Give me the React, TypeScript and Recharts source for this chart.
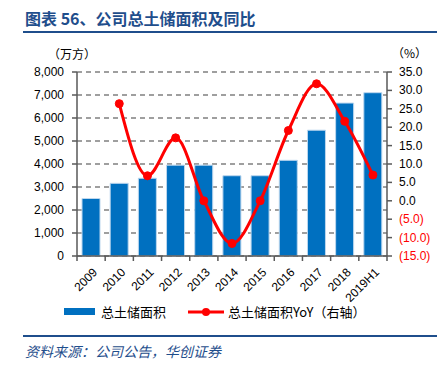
import React from "react";
import {
  ComposedChart,
  Bar,
  Line,
  XAxis,
  YAxis,
  CartesianGrid,
  Legend,
} from "recharts";

const years = ["2009", "2010", "2011", "2012", "2013", "2014", "2015", "2016", "2017", "2018", "2019H1"];
const landArea = [2500, 3160, 3380, 3950, 3950, 3490, 3490, 4160, 5470, 6650, 7100];
const landYoY = [null, 26.4, 6.8, 17.1, 0, -11.6, 0, 19.1, 31.8, 21.6, 7.0];
const leftTicks = [0, 1000, 2000, 3000, 4000, 5000, 6000, 7000, 8000];
const rightTicks = [-15, -10, -5, 0, 5, 10, 15, 20, 25, 30, 35];

const data = years.map((name, i) => ({ name, area: landArea[i], yoy: landYoY[i] }));

const BLUE = "#0070C0";
const RED = "#FF0000";
const NAVY = "#1F4E8C";
const AXIS = "#595959";
const tickFont = { fontFamily: "'Liberation Sans', Arial, sans-serif", fontSize: 12, fill: "#000" };
const cjk = "'Noto Sans CJK SC', sans-serif";

// plot area is 310px wide, 11 categories
const band = 310 / years.length;

const XTick = (props: any) => {
  const { x, y, payload, index } = props;
  const axisY = y - 8;
  return (
    <g>
      <line x1={x - band / 2} y1={axisY} x2={x - band / 2} y2={axisY + 5} stroke={AXIS} strokeWidth={1.5} />
      {index === years.length - 1 && (
        <line x1={x + band / 2} y1={axisY} x2={x + band / 2} y2={axisY + 5} stroke={AXIS} strokeWidth={1.5} />
      )}
      <text
        transform={`translate(${x + 7},${y + 9}) rotate(-45)`}
        textAnchor="end"
        style={tickFont}
      >
        {payload.value}
      </text>
    </g>
  );
};

const RightTick = (props: any) => {
  const { x, y, payload } = props;
  const v = payload.value;
  const label = v < 0 ? `(${Math.abs(v).toFixed(1)})` : v.toFixed(1);
  return (
    <text x={x} y={y} dy={4} textAnchor="start" style={{ ...tickFont, fill: v < 0 ? RED : "#000" }}>
      {label}
    </text>
  );
};

const LegendContent = () => (
  <div style={{ display: "flex", alignItems: "center", fontFamily: cjk, fontSize: 13, color: "#000" }}>
    <span style={{ display: "inline-block", width: 31, height: 7, background: BLUE, marginRight: 6 }} />
    <span style={{ marginRight: 22 }}>总土储面积</span>
    <svg width={36} height={10} style={{ marginRight: 4 }}>
      <line x1={0} y1={5} x2={36} y2={5} stroke={RED} strokeWidth={3} />
      <circle cx={18} cy={5} r={4} fill={RED} />
    </svg>
    <span>总土储面积YoY（右轴）</span>
  </div>
);

const App = () => {
  return (
    <div style={{ position: "absolute", top: 0, left: 0, width: 447, height: 368, background: "#fff" }}>
      <div
        style={{
          position: "absolute", left: 25, top: 6, fontFamily: cjk, fontWeight: 700,
          fontSize: 16, color: NAVY, whiteSpace: "nowrap",
        }}
      >
        图表 56、公司总土储面积及同比
      </div>
      <div style={{ position: "absolute", left: 23, top: 31, width: 414, height: 2, background: NAVY }} />
      <div style={{ position: "absolute", left: 48, top: 45, fontFamily: cjk, fontSize: 12 }}>（万方）</div>
      <div style={{ position: "absolute", left: 392, top: 44, fontFamily: cjk, fontSize: 12 }}>（%）</div>
      <ComposedChart
        width={447}
        height={368}
        data={data}
        margin={{ top: 72, right: 0, bottom: 62, left: 0 }}
      >
        <CartesianGrid
          yAxisId="left"
          vertical={false}
          stroke="#404040"
          strokeDasharray="5 4"
          strokeWidth={1.2}
        />
        <XAxis
          dataKey="name"
          height={50}
          interval={0}
          tickLine={false}
          tickSize={6}
          tickMargin={2}
          axisLine={{ stroke: AXIS, strokeWidth: 1.5 }}
          tick={<XTick />}
        />
        <YAxis
          yAxisId="left"
          width={77}
          domain={[0, 8000]}
          ticks={leftTicks}
          interval={0}
          tickFormatter={(v: number) => v.toLocaleString("en-US")}
          tickSize={5}
          tickMargin={8}
          axisLine={{ stroke: AXIS, strokeWidth: 1.5 }}
          tickLine={{ stroke: AXIS, strokeWidth: 1.5 }}
          tick={tickFont}
        />
        <YAxis
          yAxisId="right"
          orientation="right"
          width={60}
          domain={[-15, 35]}
          ticks={rightTicks}
          interval={0}
          tickSize={5}
          tickMargin={7}
          axisLine={{ stroke: AXIS, strokeWidth: 1.5 }}
          tickLine={{ stroke: AXIS, strokeWidth: 1.5 }}
          tick={<RightTick />}
        />
        <Bar
          yAxisId="left"
          dataKey="area"
          fill={BLUE}
          stroke="#BDD7EE"
          strokeWidth={1}
          barSize={18}
          isAnimationActive={false}
        />
        <Line
          yAxisId="right"
          dataKey="yoy"
          type="monotone"
          stroke={RED}
          strokeWidth={3}
          dot={{ r: 4, fill: RED, stroke: RED, strokeWidth: 1 }}
          activeDot={false}
          connectNulls={false}
          isAnimationActive={false}
        />
        <Legend
          layout="horizontal"
          verticalAlign="middle"
          align="center"
          content={<LegendContent />}
          wrapperStyle={{ top: 302, left: 64, width: 330, height: 20 }}
        />
      </ComposedChart>
      <div style={{ position: "absolute", left: 23, top: 335, width: 414, height: 1.5, background: NAVY }} />
      <div
        style={{
          position: "absolute", left: 25, top: 341, fontFamily: cjk, fontStyle: "italic",
          fontSize: 14, color: NAVY, whiteSpace: "nowrap",
        }}
      >
        资料来源：公司公告，华创证券
      </div>
    </div>
  );
};

export default App;
